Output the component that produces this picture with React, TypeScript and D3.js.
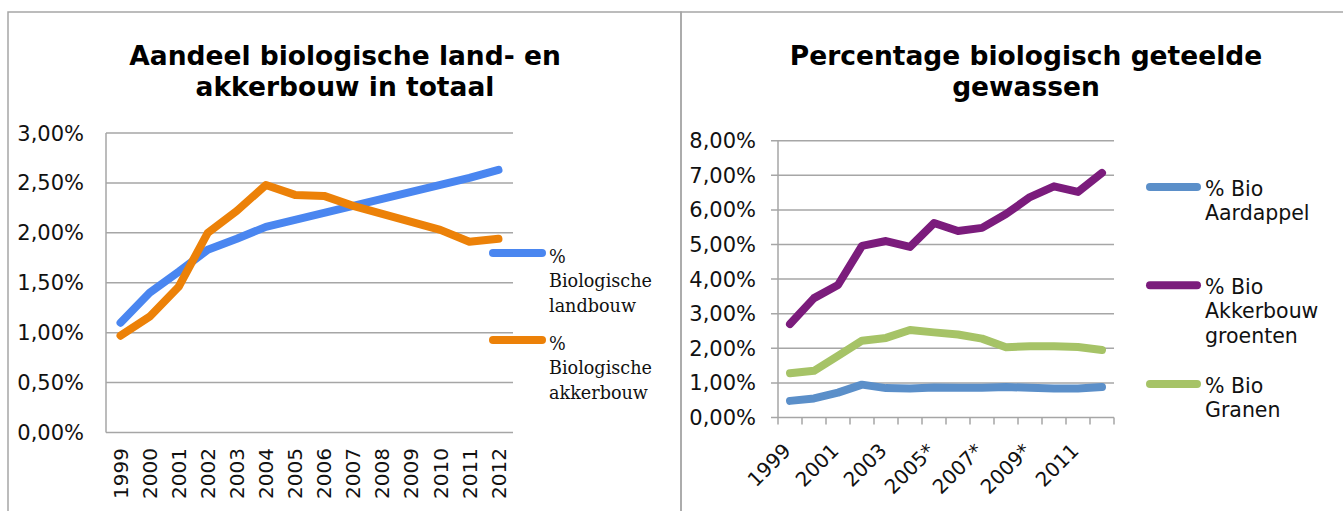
import React, { useEffect, useRef } from 'react';
import * as d3 from 'd3';

// left chart: share of organic farming overall
const years = ['1999', '2000', '2001', '2002', '2003', '2004', '2005', '2006', '2007', '2008', '2009', '2010', '2011', '2012'];
const landbouw = [1.10, 1.40, 1.61, 1.83, 1.94, 2.06, 2.13, 2.20, 2.27, 2.34, 2.41, 2.48, 2.55, 2.63];
const akkerbouw = [0.97, 1.16, 1.46, 2.00, 2.22, 2.48, 2.38, 2.37, 2.27, 2.19, 2.11, 2.03, 1.91, 1.94];
const leftTicks = [0, 0.5, 1, 1.5, 2, 2.5, 3];

// right chart: percentage of organically grown crops
const cropYears = ['1999', '2000', '2001', '2002', '2003', '2004', '2005*', '2006*', '2007*', '2008*', '2009*', '2010', '2011', '2012'];
const shownCropYears = ['1999', '2001', '2003', '2005*', '2007*', '2009*', '2011'];
const aardappel = [0.48, 0.55, 0.72, 0.95, 0.85, 0.84, 0.87, 0.86, 0.86, 0.88, 0.86, 0.84, 0.84, 0.88];
const groenten = [2.70, 3.45, 3.83, 4.96, 5.10, 4.93, 5.62, 5.39, 5.48, 5.88, 6.37, 6.68, 6.52, 7.07];
const granen = [1.28, 1.35, 1.78, 2.22, 2.30, 2.53, 2.46, 2.40, 2.28, 2.03, 2.06, 2.06, 2.04, 1.95];
const rightTicks = [0, 1, 2, 3, 4, 5, 6, 7, 8];

const GRID = '#a6a6a6';
const SANS = 'DejaVu Sans, Verdana, sans-serif';
const SERIF = 'DejaVu Serif, Cambria, serif';

const pct = (v: number) => d3.format('.2f')(v).replace('.', ',') + '%';

const App = () => {
  const ref = useRef<SVGSVGElement | null>(null);

  useEffect(() => {
    if (!ref.current) return;
    const svg = d3.select(ref.current);
    svg.selectAll('*').remove();

    // panel frames
    svg.append('rect').attr('x', 8).attr('y', 12).attr('width', 673).attr('height', 520)
      .attr('fill', 'none').attr('stroke', GRID).attr('stroke-width', 1.5);
    svg.append('rect').attr('x', 681).attr('y', 12).attr('width', 680).attr('height', 520)
      .attr('fill', 'none').attr('stroke', GRID).attr('stroke-width', 1.5);

    const title = (lines: string[], cx: number) => {
      const t = svg.append('text').attr('text-anchor', 'middle')
        .attr('font-family', SANS).attr('font-weight', 'bold').attr('font-size', 26.5).attr('fill', '#000');
      lines.forEach((l, i) => t.append('tspan').attr('x', cx).attr('y', 65 + i * 31).text(l));
    };

    // ---------- left chart ----------
    {
      const x = d3.scaleBand().domain(years).range([106, 513]);
      const y = d3.scaleLinear().domain([0, 3]).range([432.5, 133]);
      const cx = (c: string) => (x(c) as number) + x.bandwidth() / 2;

      title(['Aandeel biologische land- en', 'akkerbouw in totaal'], 345);

      const g = svg.append('g');
      g.selectAll('line.grid').data(leftTicks).join('line')
        .attr('x1', 106).attr('x2', 513).attr('y1', d => y(d)).attr('y2', d => y(d))
        .attr('stroke', GRID).attr('stroke-width', 1.5);
      g.append('line').attr('x1', 106).attr('x2', 106).attr('y1', y(3)).attr('y2', y(0))
        .attr('stroke', GRID).attr('stroke-width', 1.5);

      g.selectAll('text.ylab').data(leftTicks).join('text')
        .attr('x', 84).attr('y', d => y(d)).attr('dy', '0.36em').attr('text-anchor', 'end')
        .attr('font-family', SANS).attr('font-size', 21).attr('fill', '#111').text(d => pct(d));

      g.selectAll('text.xlab').data(years).join('text')
        .attr('transform', d => `translate(${cx(d)},448) rotate(-90)`)
        .attr('dy', '0.36em').attr('text-anchor', 'end')
        .attr('font-family', SANS).attr('font-size', 20).attr('fill', '#111').text(d => d);

      const line = d3.line<number>().x((_, i) => cx(years[i])).y(d => y(d));
      [[landbouw, '#4a86f0'], [akkerbouw, '#ec8108']].forEach(([data, color]) => {
        g.append('path').datum(data as number[]).attr('d', line).attr('fill', 'none')
          .attr('stroke', color as string).attr('stroke-width', 8)
          .attr('stroke-linecap', 'round').attr('stroke-linejoin', 'round');
      });

      // legend
      const legend = [
        { color: '#4a86f0', y: 253, lines: ['%', 'Biologische', 'landbouw'] },
        { color: '#ec8108', y: 340, lines: ['%', 'Biologische', 'akkerbouw'] },
      ];
      legend.forEach(l => {
        g.append('line').attr('x1', 493).attr('x2', 542).attr('y1', l.y).attr('y2', l.y)
          .attr('stroke', l.color).attr('stroke-width', 8).attr('stroke-linecap', 'round');
        const t = g.append('text').attr('font-family', SERIF).attr('font-size', 17.6).attr('fill', '#111');
        l.lines.forEach((s, i) => t.append('tspan').attr('x', 549).attr('y', l.y + 9.5 + i * 24.5).text(s));
      });
    }

    // ---------- right chart ----------
    {
      const x = d3.scaleBand().domain(cropYears).range([778, 1114]);
      const y = d3.scaleLinear().domain([0, 8]).range([417.5, 140.7]);
      const cx = (c: string) => (x(c) as number) + x.bandwidth() / 2;

      title(['Percentage biologisch geteelde', 'gewassen'], 1026);

      const g = svg.append('g');
      g.selectAll('line.grid').data(rightTicks).join('line')
        .attr('x1', 771).attr('x2', 1114).attr('y1', d => y(d)).attr('y2', d => y(d))
        .attr('stroke', GRID).attr('stroke-width', 1.5);
      g.append('line').attr('x1', 778).attr('x2', 778).attr('y1', y(8)).attr('y2', y(0) + 7)
        .attr('stroke', GRID).attr('stroke-width', 1.5);
      const edges = cropYears.map(c => x(c) as number).concat([1114]);
      g.selectAll('line.xtick').data(edges.slice(1)).join('line')
        .attr('x1', d => d).attr('x2', d => d).attr('y1', y(0)).attr('y2', y(0) + 7)
        .attr('stroke', GRID).attr('stroke-width', 1.5);

      g.selectAll('text.ylab').data(rightTicks).join('text')
        .attr('x', 756).attr('y', d => y(d)).attr('dy', '0.36em').attr('text-anchor', 'end')
        .attr('font-family', SANS).attr('font-size', 21).attr('fill', '#111').text(d => pct(d));

      g.selectAll('text.xlab').data(shownCropYears).join('text')
        .attr('transform', d => `translate(${cx(d) - 3},447) rotate(-45)`)
        .attr('dy', '0.36em').attr('text-anchor', 'end')
        .attr('font-family', SANS).attr('font-size', 20).attr('fill', '#111').text(d => d);

      const line = d3.line<number>().x((_, i) => cx(cropYears[i])).y(d => y(d));
      [[aardappel, '#5b8fc9'], [groenten, '#7b1c7c'], [granen, '#a6c367']].forEach(([data, color]) => {
        g.append('path').datum(data as number[]).attr('d', line).attr('fill', 'none')
          .attr('stroke', color as string).attr('stroke-width', 8)
          .attr('stroke-linecap', 'round').attr('stroke-linejoin', 'round');
      });

      const legend = [
        { color: '#5b8fc9', y: 187, lines: ['% Bio', 'Aardappel'] },
        { color: '#7b1c7c', y: 285.3, lines: ['% Bio', 'Akkerbouw', 'groenten'] },
        { color: '#a6c367', y: 384, lines: ['% Bio', 'Granen'] },
      ];
      legend.forEach(l => {
        g.append('line').attr('x1', 1150).attr('x2', 1197).attr('y1', l.y).attr('y2', l.y)
          .attr('stroke', l.color).attr('stroke-width', 8).attr('stroke-linecap', 'round');
        const t = g.append('text').attr('font-family', SANS).attr('font-size', 20.5).attr('fill', '#111');
        l.lines.forEach((s, i) => t.append('tspan').attr('x', 1205).attr('y', l.y + 8.5 + i * 24.5).text(s));
      });
    }
  }, []);

  return (
    <div style={{ position: 'absolute', left: 0, top: 0, width: 1343, height: 511, background: '#fff' }}>
      <svg ref={ref} width={1343} height={511} style={{ display: 'block' }} />
    </div>
  );
};

export default App;
